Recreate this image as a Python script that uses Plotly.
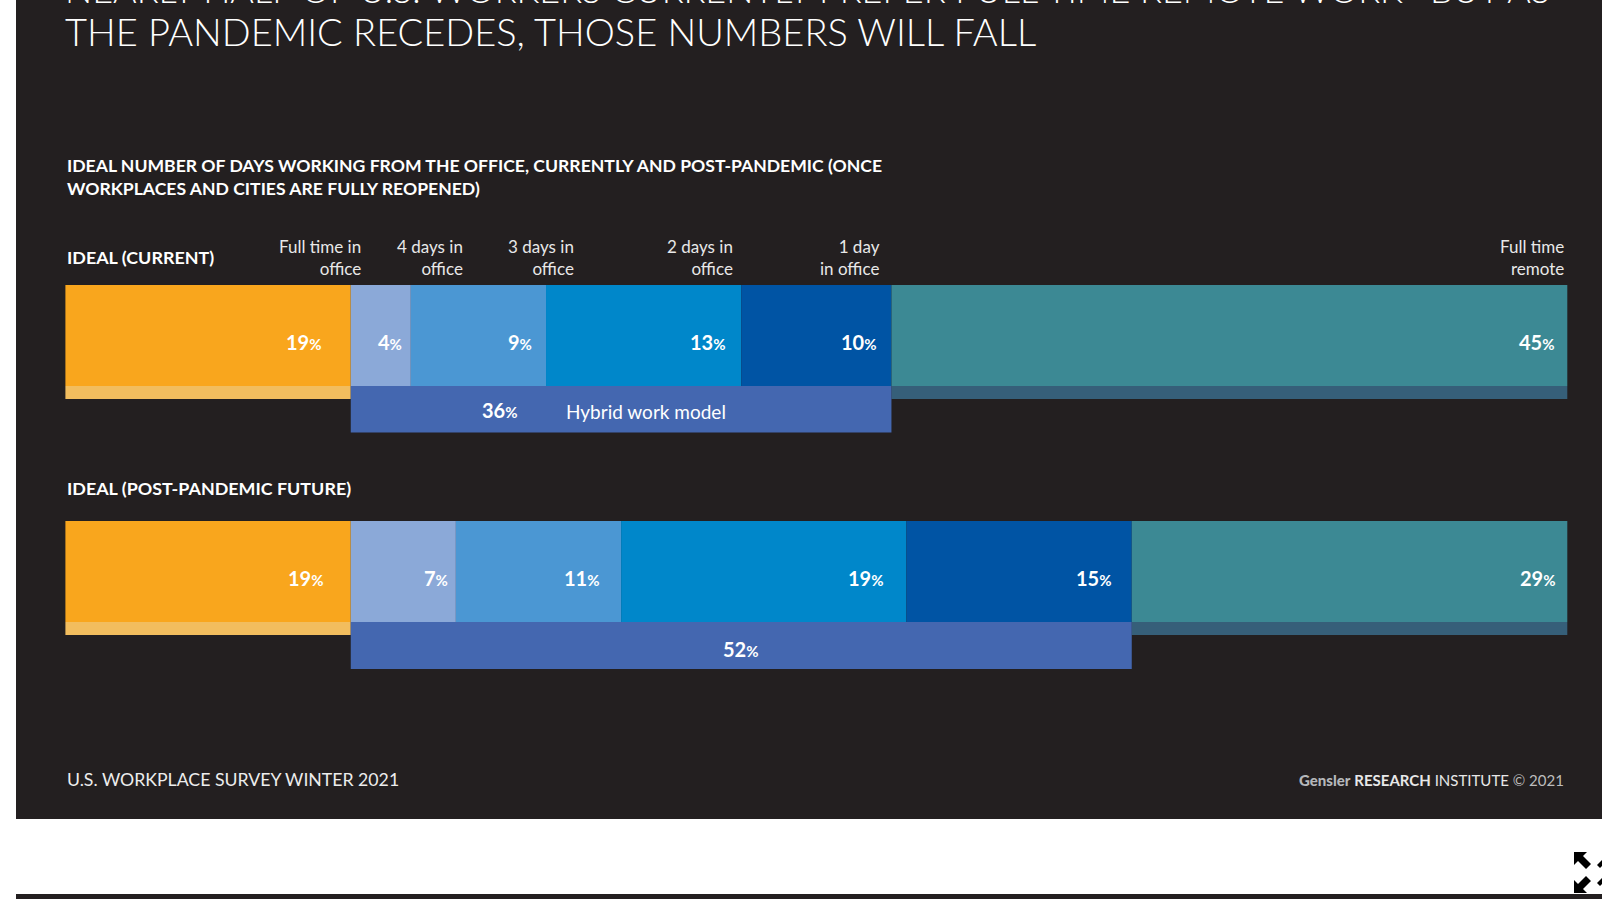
import plotly.graph_objects as go
import numpy as np

# ---------------- data ----------------
segment_names = ["Full time in office", "4 days in office", "3 days in office",
                 "2 days in office", "1 day in office", "Full time remote"]
header_labels = ["Full time in<br>office", "4 days in<br>office", "3 days in<br>office",
                 "2 days in<br>office", "1 day<br>in office", "Full time<br>remote"]
current_pct = [19, 4, 9, 13, 10, 45]
future_pct = [19, 7, 11, 19, 15, 29]
row_titles = ["IDEAL (CURRENT)", "IDEAL (POST-PANDEMIC FUTURE)"]

title_line1 = "NEARLY HALF OF U.S. WORKERS CURRENTLY PREFER FULL-TIME REMOTE WORK\u2014BUT AS"
title_line2 = "THE PANDEMIC RECEDES, THOSE NUMBERS WILL FALL"
subtitle = "IDEAL NUMBER OF DAYS WORKING FROM THE OFFICE, CURRENTLY AND POST-PANDEMIC (ONCE<br>WORKPLACES AND CITIES ARE FULLY REOPENED)"
footer_left = "U.S. WORKPLACE SURVEY WINTER 2021"

# ---------------- style ----------------
W, H = 1602, 899
BG = "#231F20"
seg_colors = ["#F9A61D", "#8BA9D8", "#4B97D3", "#0087CA", "#0054A4", "#3C8994"]
strip_colors = ["#F2BD5E", "#365F79"]
hybrid_color = "#4467B0"
FONT = "Lato"

rows = [
    dict(vals=current_pct, y0=285, y1=386, strip=399, hyb=432.5, pads=[27, 7, 12, 13, 12, 10],
         title_y=257.5, hybrid_text=True),
    dict(vals=future_pct, y0=521, y1=622, strip=635, hyb=669, pads=[25, 6, 19, 20, 18, 9],
         title_y=488, hybrid_text=False),
]
header_x_px = [363, 465, 576, 735, 882, 1566]


def py(p):
    return 1 - p / H


def px(p):
    return p / W


def pct_html(v):
    return f"<b>{int(v)}</b><b><span style='font-size:15px'>%</span></b>"


fig = go.Figure()
annotations = []

for ri, r in enumerate(rows):
    vals = np.array(r["vals"], dtype=float)
    bases = np.concatenate([[0], np.cumsum(vals)[:-1]])
    yc = (r["y0"] + r["y1"]) / 2
    th = r["y1"] - r["y0"]
    fig.add_trace(go.Bar(orientation="h", x=vals, base=bases, y=[yc] * len(vals),
                         width=[th] * len(vals), marker=dict(color=seg_colors, line=dict(width=0)),
                         hoverinfo="skip"))
    # light strips under first and last segments
    sc = (r["y1"] + r["strip"]) / 2
    sw = r["strip"] - r["y1"]
    fig.add_trace(go.Bar(orientation="h", x=[vals[0], vals[-1]], base=[bases[0], bases[-1]],
                         y=[sc, sc], width=[sw, sw],
                         marker=dict(color=strip_colors, line=dict(width=0)), hoverinfo="skip"))
    # hybrid box
    hyb_val = vals[1:5].sum()
    hc = (r["y1"] + r["hyb"]) / 2
    hw = r["hyb"] - r["y1"]
    fig.add_trace(go.Bar(orientation="h", x=[hyb_val], base=[vals[0]], y=[hc], width=[hw],
                         marker=dict(color=hybrid_color, line=dict(width=0)), hoverinfo="skip"))
    # segment labels
    for v, b, pad in zip(vals, bases, r["pads"]):
        annotations.append(dict(
            x=b + v, y=yc + 6, xref="x", yref="y", xanchor="right", yanchor="middle",
            xshift=-pad, showarrow=False, text=pct_html(v),
            font=dict(family=FONT, size=20, color="white")))
    hyb_center = vals[0] + hyb_val / 2
    if r["hybrid_text"]:
        annotations.append(dict(x=hyb_center, y=hc + 1, xref="x", yref="y", xanchor="right",
                                yanchor="middle", xshift=-101, showarrow=False, text=pct_html(hyb_val),
                                font=dict(family=FONT, size=20, color="white")))
        annotations.append(dict(x=hyb_center, y=hc + 2, xref="x", yref="y", xanchor="left",
                                yanchor="middle", xshift=-57, showarrow=False,
                                text="Hybrid work model",
                                font=dict(family=FONT, size=19, color="white")))
    else:
        annotations.append(dict(x=hyb_center, y=hc + 3, xref="x", yref="y", xanchor="center",
                                yanchor="middle", showarrow=False, text=pct_html(hyb_val),
                                font=dict(family=FONT, size=20, color="white")))
    # row title
    annotations.append(dict(x=px(65), y=py(r["title_y"]), xref="paper", yref="paper",
                            xanchor="left", yanchor="middle", showarrow=False,
                            text=f"<b>{row_titles[ri]}</b>",
                            font=dict(family=FONT, size=17.9, color="white")))

# header labels above current bar
for lab, hx in zip(header_labels, header_x_px):
    annotations.append(dict(x=px(hx), y=py(257), xref="paper", yref="paper", xanchor="right",
                            yanchor="middle", align="right", showarrow=False, text=lab,
                            font=dict(family=FONT, size=17, color="#E8E8E8")))

# titles (first line mostly cut off by the top edge, as in the source)
annotations.append(dict(x=px(63), y=py(-11), xref="paper", yref="paper", xanchor="left",
                        yanchor="middle", showarrow=False, text=title_line1,
                        font=dict(family=FONT, size=36, color="white", weight=300)))
annotations.append(dict(x=px(63), y=py(31), xref="paper", yref="paper", xanchor="left",
                        yanchor="middle", showarrow=False, text=title_line2,
                        font=dict(family=FONT, size=38, color="white", weight=300)))
annotations.append(dict(x=px(65), y=py(177), xref="paper", yref="paper", xanchor="left",
                        yanchor="middle", align="left", showarrow=False, text=f"<b>{subtitle}</b>",
                        font=dict(family=FONT, size=17.6, color="white")))

# footer
annotations.append(dict(x=px(65), y=py(779), xref="paper", yref="paper", xanchor="left",
                        yanchor="middle", showarrow=False, text=footer_left,
                        font=dict(family=FONT, size=17.7, color="#EDEDED")))
annotations.append(dict(x=px(1566), y=py(780), xref="paper", yref="paper", xanchor="right",
                        yanchor="middle", showarrow=False,
                        text="<b><span style='color:#B5B7BA;font-weight:900'>Gensler</span></b> "
                             "<b>RESEARCH</b> INSTITUTE "
                             "<span style='color:#BDBDBD'>\u00a9 2021</span>",
                        font=dict(family=FONT, size=15, color="#E8E8E8")))

shapes = [
    dict(type="rect", xref="paper", yref="paper", x0=px(16), x1=1, y0=py(819), y1=1,
         fillcolor=BG, line=dict(width=0), layer="below"),
    dict(type="rect", xref="paper", yref="paper", x0=px(16), x1=1, y0=0, y1=py(894),
         fillcolor=BG, line=dict(width=0), layer="below"),
    # expand icon (partial, bottom right)
    dict(type="path", xref="paper", yref="paper",
         path=" ".join([f"M {px(1574)} {py(852)}", f"L {px(1587)} {py(852)}", f"L {px(1583)} {py(856)}",
                        f"L {px(1591)} {py(864)}", f"L {px(1586)} {py(869)}", f"L {px(1578)} {py(861)}",
                        f"L {px(1574)} {py(865)}", "Z"]),
         fillcolor="black", line=dict(width=0)),
    dict(type="path", xref="paper", yref="paper",
         path=" ".join([f"M {px(1574)} {py(893)}", f"L {px(1574)} {py(880)}", f"L {px(1578)} {py(884)}",
                        f"L {px(1586)} {py(876)}", f"L {px(1591)} {py(881)}", f"L {px(1583)} {py(889)}",
                        f"L {px(1587)} {py(893)}", "Z"]),
         fillcolor="black", line=dict(width=0)),
    dict(type="path", xref="paper", yref="paper",
         path=" ".join([f"M {px(1602)} {py(860)}", f"L {px(1597)} {py(865)}", f"L {px(1600)} {py(868)}",
                        f"L {px(1602)} {py(866)}", "Z"]),
         fillcolor="black", line=dict(width=0)),
    dict(type="path", xref="paper", yref="paper",
         path=" ".join([f"M {px(1602)} {py(878)}", f"L {px(1597)} {py(883)}", f"L {px(1600)} {py(886)}",
                        f"L {px(1602)} {py(884)}", "Z"]),
         fillcolor="black", line=dict(width=0)),
]

# x: 0% -> 65.4px, 100% -> 1567.3px
scale = (1567.3 - 65.4) / 100.0
x0 = -65.4 / scale
x1 = x0 + W / scale

fig.update_layout(
    width=W, height=H, margin=dict(l=0, r=0, t=0, b=0),
    paper_bgcolor="white", plot_bgcolor="rgba(0,0,0,0)",
    barmode="overlay", showlegend=False,
    xaxis=dict(range=[x0, x1], visible=False, fixedrange=True),
    yaxis=dict(range=[H, 0], visible=False, fixedrange=True),
    annotations=annotations, shapes=shapes,
)

fig.write_html("out.html")
